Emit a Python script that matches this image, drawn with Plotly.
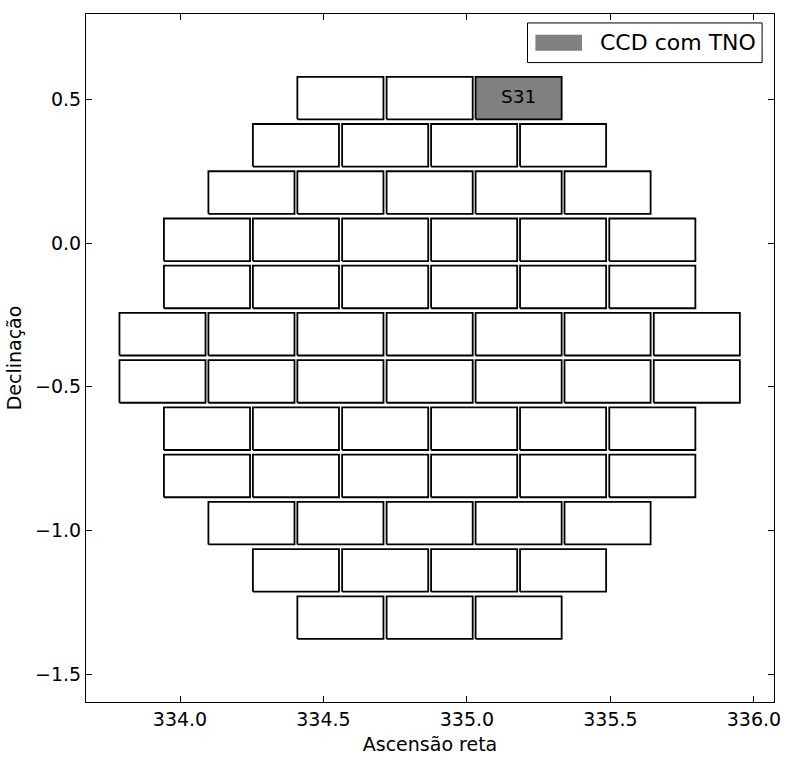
import plotly.graph_objects as go

# ---- data: DECam CCD centres (RA, Dec in degrees) ----
ccd_names = [
    "S29", "S30", "S31",
    "S25", "S26", "S27", "S28",
    "S20", "S21", "S22", "S23", "S24",
    "S14", "S15", "S16", "S17", "S18", "S19",
    "S8", "S9", "S10", "S11", "S12", "S13",
    "S1", "S2", "S3", "S4", "S5", "S6", "S7",
    "N1", "N2", "N3", "N4", "N5", "N6", "N7",
    "N8", "N9", "N10", "N11", "N12", "N13",
    "N14", "N15", "N16", "N17", "N18", "N19",
    "N20", "N21", "N22", "N23", "N24",
    "N25", "N26", "N27", "N28",
    "N29", "N30", "N31",
]
ccd_ra = [
    334.559, 334.870, 335.180,
    334.404, 334.715, 335.025, 335.335,
    334.249, 334.559, 334.870, 335.180, 335.490,
    334.094, 334.404, 334.715, 335.025, 335.335, 335.646,
    334.094, 334.404, 334.715, 335.025, 335.335, 335.646,
    333.939, 334.249, 334.559, 334.870, 335.180, 335.490, 335.801,
    333.939, 334.249, 334.559, 334.870, 335.180, 335.490, 335.801,
    334.094, 334.404, 334.715, 335.025, 335.335, 335.646,
    334.094, 334.404, 334.715, 335.025, 335.335, 335.646,
    334.249, 334.559, 334.870, 335.180, 335.490,
    334.404, 334.715, 335.025, 335.335,
    334.559, 334.870, 335.180,
]
ccd_dec = (
    [0.5042] * 3 + [0.3399] * 4 + [0.1756] * 5 + [0.0113] * 6 + [-0.1530] * 6
    + [-0.3173] * 7 + [-0.4817] * 7 + [-0.6460] * 6 + [-0.8103] * 6
    + [-0.9746] * 5 + [-1.1389] * 4 + [-1.3032] * 3
)
ccd_width = 0.300   # degrees in RA
ccd_height = 0.148  # degrees in Dec
tno_ccds = ["S31"]
legend_label = "CCD com TNO"
x_ticks = [334.0, 334.5, 335.0, 335.5, 336.0]
y_ticks = [0.5, 0.0, -0.5, -1.0, -1.5]

FONT = "DejaVu Sans"


def outline(ra, dec):
    hw, hh = ccd_width / 2, ccd_height / 2
    xs = [ra - hw, ra + hw, ra + hw, ra - hw, ra - hw]
    ys = [dec - hh, dec - hh, dec + hh, dec + hh, dec - hh]
    return xs, ys


wx, wy, gx, gy = [], [], [], []
for name, ra, dec in zip(ccd_names, ccd_ra, ccd_dec):
    xs, ys = outline(ra, dec)
    if name in tno_ccds:
        gx += xs + [None]
        gy += ys + [None]
    else:
        wx += xs + [None]
        wy += ys + [None]

fig = go.Figure()
fig.add_trace(go.Scatter(x=wx, y=wy, mode="lines", fill="toself",
                         fillcolor="white", line=dict(color="black", width=1.8),
                         showlegend=False, hoverinfo="skip"))
fig.add_trace(go.Scatter(x=gx, y=gy, mode="lines", fill="toself",
                         fillcolor="#808080", line=dict(color="black", width=1.8),
                         name=legend_label, showlegend=False, hoverinfo="skip"))
lab_x = [ra for n, ra in zip(ccd_names, ccd_ra) if n in tno_ccds]
lab_y = [de for n, de in zip(ccd_names, ccd_dec) if n in tno_ccds]
lab_t = [n for n in ccd_names if n in tno_ccds]
fig.add_trace(go.Scatter(x=lab_x, y=lab_y, mode="text", text=lab_t,
                         textposition="middle center",
                         textfont=dict(family=FONT, size=18.5, color="black"),
                         showlegend=False, hoverinfo="skip"))

# manual legend (matplotlib-like) in paper coordinates
fig.add_shape(type="rect", xref="paper", yref="paper",
              x0=0.6417, x1=0.9827, y0=0.9294, y1=0.987,
              line=dict(color="black", width=1), fillcolor="white", layer="above")
fig.add_shape(type="rect", xref="paper", yref="paper",
              x0=0.6532, x1=0.7209, y0=0.9467, y1=0.9697,
              line=dict(color="#808080", width=0), fillcolor="#808080", layer="above")
fig.add_annotation(xref="paper", yref="paper", x=0.7439, y=0.9582,
                   text=legend_label, showarrow=False, xanchor="left",
                   yanchor="middle", font=dict(family=FONT, size=22, color="black"))

axis_common = dict(
    showgrid=False, zeroline=False, showline=True, linecolor="black",
    linewidth=1, mirror="ticks", ticks="inside", ticklen=6, tickcolor="black",
    tickwidth=1, tickformat=".1f",
    tickfont=dict(family=FONT, size=19, color="black"),
)
fig.update_xaxes(range=[333.6724, 336.070], tickvals=x_ticks,
                 title=dict(text="Ascensão reta", standoff=8,
                            font=dict(family=FONT, size=19, color="black")),
                 **axis_common)
fig.update_yaxes(range=[-1.5966, 0.7966], tickvals=y_ticks,
                 title=dict(text="Declinação", standoff=8,
                            font=dict(family=FONT, size=19, color="black")),
                 **axis_common)
fig.update_layout(width=790, height=760,
                  margin=dict(l=86, r=9, t=14, b=52),
                  plot_bgcolor="white", paper_bgcolor="white",
                  showlegend=False)
fig.write_html("out.html")
